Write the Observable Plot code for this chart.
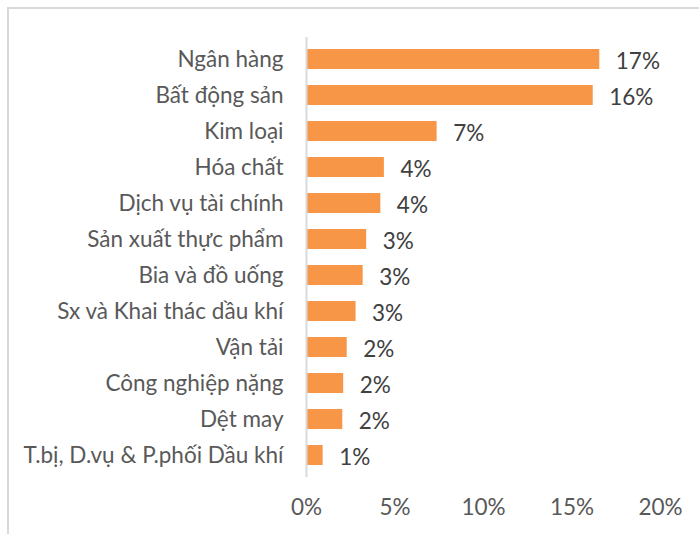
<!DOCTYPE html>
<html>
<head>
<meta charset="utf-8">
<script src="https://cdn.jsdelivr.net/npm/d3@7"></script>
<script src="https://cdn.jsdelivr.net/npm/@observablehq/plot@0.6"></script>
<style>
  html, body { margin: 0; padding: 0; background: #fff; }
  #wrap { position: relative; width: 699px; height: 534px; overflow: hidden; }
  #border { position: absolute; left: 7px; top: 7px; width: 720px; height: 560px;
            border-top: 2px solid #d9d9d9; border-left: 2px solid #d9d9d9; box-sizing: border-box; }
  #chart { position: absolute; left: 0; top: 0; }
</style>
</head>
<body>
<div id="wrap"><div id="border"></div><div id="chart"></div></div>
<script>
const categories = [
  "Ngân hàng",
  "Bất động sản",
  "Kim loại",
  "Hóa chất",
  "Dịch vụ tài chính",
  "Sản xuất thực phẩm",
  "Bia và đồ uống",
  "Sx và Khai thác dầu khí",
  "Vận tải",
  "Công nghiệp nặng",
  "Dệt may",
  "T.bị, D.vụ & P.phối Dầu khí"
];
const shares = [0.1657, 0.162, 0.0738, 0.044, 0.042, 0.034, 0.032, 0.028, 0.023, 0.021, 0.0205, 0.0094];
const xTicks = [0, 0.05, 0.10, 0.15, 0.20];

const data = categories.map((c, i) => ({category: c, share: shares[i]}));
const fmt = d3.format(".0%");
const FONT = "Lato, 'Open Sans', sans-serif";
const FS = 22.5;

const chart = Plot.plot({
  width: 699,
  height: 534,
  marginLeft: 306,
  marginRight: 39,
  marginTop: 37,
  marginBottom: 57,
  style: {fontFamily: FONT, fontSize: FS + "px", background: "transparent", overflow: "visible"},
  x: {domain: [0, 0.2], ticks: xTicks, tickFormat: fmt, label: null},
  y: {domain: categories, paddingInner: 0.44, paddingOuter: 0.2, label: null},
  marks: [
    Plot.barX(data, {x: "share", y: "category", fill: "#F79646"}),
    Plot.ruleX([0], {stroke: "#d9d9d9", strokeWidth: 2}),
    Plot.text(data, {x: "share", y: "category", text: d => fmt(d.share), textAnchor: "start", dx: 16, dy: 2,
                     fill: "#404040", fontSize: FS}),
    Plot.axisX({ticks: xTicks, tickFormat: fmt, tickSize: 0, tickPadding: 22, color: "#595959", fontSize: FS, label: null}),
    Plot.axisY({tickSize: 0, tickPadding: 23, color: "#595959", fontSize: FS, label: null})
  ]
});
document.getElementById("chart").appendChild(chart);
</script>
</body>
</html>
